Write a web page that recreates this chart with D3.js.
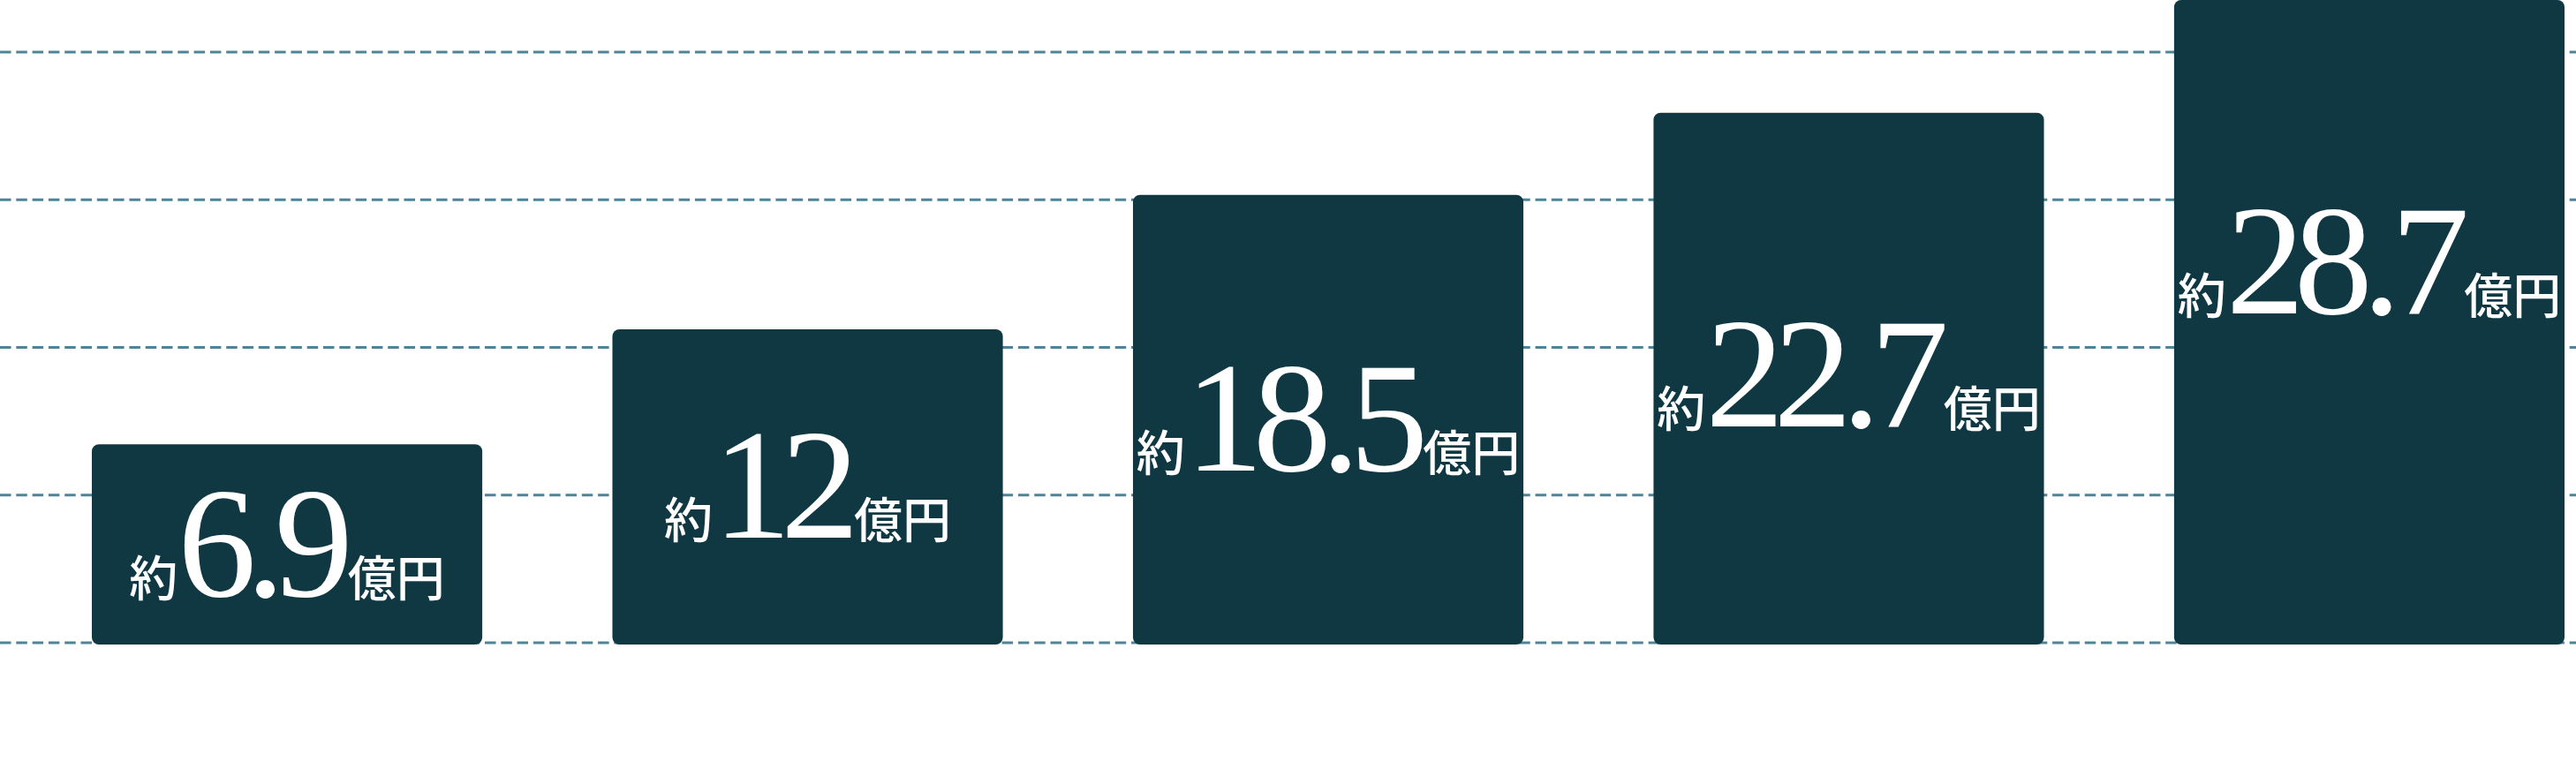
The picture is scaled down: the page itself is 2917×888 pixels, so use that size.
<!DOCTYPE html>
<html>
<head>
<meta charset="utf-8">
<script src="https://cdn.jsdelivr.net/npm/d3@7"></script>
<style>
  html, body { margin: 0; padding: 0; background: #ffffff; }
  svg { display: block; }
</style>
</head>
<body>
<div id="chart"></div>
<script>
// ---- data ----
const categories = ["1", "2", "3", "4", "5"];
const values = [6.9, 12, 18.5, 22.7, 28.7];
const valueLabels = ["6.9", "12", "18.5", "22.7", "28.7"];
const prefixLabel = "約";
const unitLabel = "億円";
const gridTicks = [0, 1, 2, 3, 4];

// ---- layout ----
const W = 2917, H = 888;
const barColor = "#0f3843";
const gridColor = "#4e8596";

const svg = d3.select("#chart").append("svg")
  .attr("width", W).attr("height", H);

const x = d3.scaleBand()
  .domain(categories)
  .range([104, 2904])
  .paddingInner(0.25)
  .paddingOuter(0);

const y = d3.scalePow()
  .exponent(0.82)
  .domain([0, d3.max(values)])
  .range([730, 0]);

const yGrid = d3.scaleLinear()
  .domain([0, 4])
  .range([728, 59]);

// gridlines
svg.append("g").selectAll("line")
  .data(gridTicks)
  .join("line")
  .attr("x1", 0).attr("x2", W)
  .attr("y1", d => yGrid(d)).attr("y2", d => yGrid(d))
  .attr("stroke", gridColor)
  .attr("stroke-width", 3)
  .attr("stroke-dasharray", "12.5 5.8");

// bars
const data = categories.map((c, i) => ({ c, v: values[i], label: valueLabels[i] }));

svg.append("g").selectAll("rect")
  .data(data)
  .join("rect")
  .attr("x", d => x(d.c))
  .attr("y", d => y(d.v))
  .attr("width", x.bandwidth())
  .attr("height", d => y(0) - y(d.v))
  .attr("rx", 8).attr("ry", 8)
  .attr("fill", barColor);

// labels
const labels = svg.append("g").selectAll("text")
  .data(data)
  .join("text")
  .attr("x", d => x(d.c) + x.bandwidth() / 2)
  .attr("y", d => {
    const top = y(d.v), h = y(0) - y(d.v);
    return top + Math.min(h / 2, 297) + 58;
  })
  .attr("text-anchor", "middle")
  .attr("fill", "#ffffff");

labels.append("tspan")
  .attr("font-family", "'Noto Sans CJK JP', 'Noto Sans', sans-serif")
  .attr("font-size", 55)
  .attr("font-weight", 500)
  .text(prefixLabel);

labels.append("tspan")
  .attr("font-family", "'Liberation Serif', 'DejaVu Serif', serif")
  .attr("font-size", 178)
  .attr("letter-spacing", -12)
  .text(d => d.label);

labels.append("tspan")
  .attr("font-family", "'Noto Sans CJK JP', 'Noto Sans', sans-serif")
  .attr("font-size", 55)
  .attr("font-weight", 500)
  .attr("dx", 6)
  .text(unitLabel);
</script>
</body>
</html>
